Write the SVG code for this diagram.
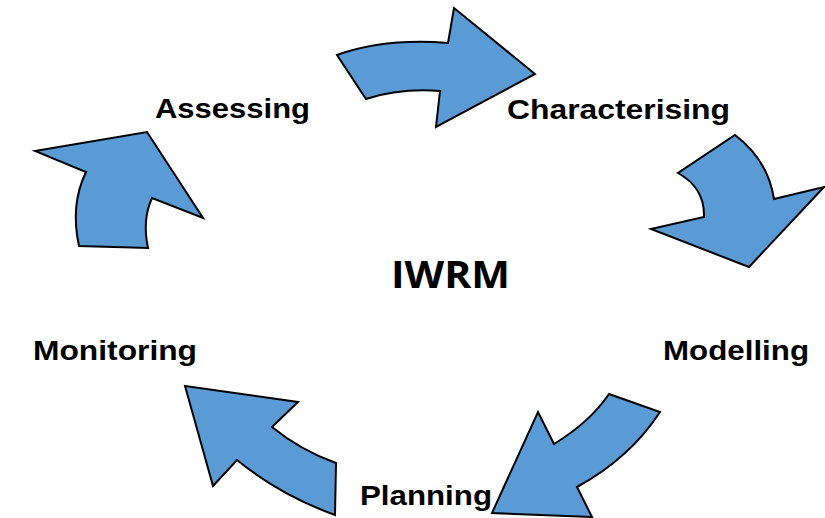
<svg xmlns="http://www.w3.org/2000/svg" width="825" height="518" viewBox="0 0 825 518">
<style>
.arrow{fill:#5B9BD5;stroke:#000;stroke-width:2;stroke-linejoin:miter}
.lbl{font-family:"Liberation Sans",Arial,sans-serif;font-weight:bold;font-size:28px;fill:#000}
.title{font-family:"Open Sans","Noto Sans",sans-serif;font-weight:bold;font-size:38px;fill:#000}
</style>
<rect width="825" height="518" fill="#fff"/>
<g id="connectors">
<path id="arrow-top" class="arrow" d="M337,55 Q385,38 448,43 L454,8 L535,74 L436,127 L440,91 Q400,88 366,99 Z"/>
<path id="arrow-right" class="arrow" d="M735,135 Q768,160 774,199 L824,187 L749,267 L651,229 L704,217 Q705,188 678,173 Z"/>
<path id="arrow-bottom-right" class="arrow" d="M609,394 L660,412 Q630,458 577,487 L592,517 L492,513 L538,412 L554,444 Q590,422 609,394 Z"/>
<path id="arrow-bottom-left" class="arrow" d="M185,386 L298,402 L272,427 Q300,450 336,463 L335,515 Q280,495 237,460 L213,486 Z"/>
<path id="arrow-left" class="arrow" d="M35,151 L147,132 L203,218 L152,198 Q142,220 148,248 L79,246 Q70,205 86,172 Z"/>
</g>
<g id="node-assessing"><text class="lbl" x="155" y="118" textLength="155" lengthAdjust="spacingAndGlyphs">Assessing</text></g>
<g id="node-characterising"><text class="lbl" x="507" y="119" textLength="223" lengthAdjust="spacingAndGlyphs">Characterising</text></g>
<g id="node-modelling"><text class="lbl" x="663" y="360" textLength="146" lengthAdjust="spacingAndGlyphs">Modelling</text></g>
<g id="node-planning"><text class="lbl" x="360" y="505" textLength="132" lengthAdjust="spacingAndGlyphs">Planning</text></g>
<g id="node-monitoring"><text class="lbl" x="33" y="360" textLength="164" lengthAdjust="spacingAndGlyphs">Monitoring</text></g>
<g id="node-iwrm"><text class="title" x="391" y="288" textLength="119" lengthAdjust="spacingAndGlyphs">IWRM</text></g>
</svg>
